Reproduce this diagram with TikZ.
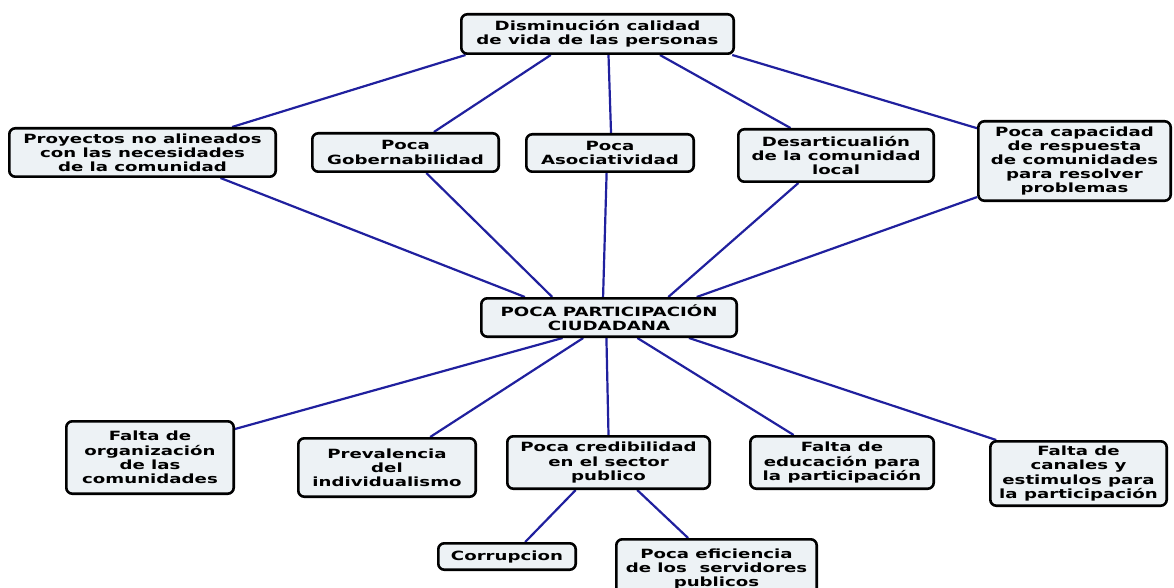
\documentclass[tikz,border=0pt]{standalone}
\usepackage{fontspec}
\newfontfamily\boxfont[FakeStretch=1.43]{DejaVu Sans Bold}
\usetikzlibrary{calc,backgrounds}
\definecolor{boxfill}{RGB}{237,242,245}
\definecolor{linkblue}{RGB}{32,32,158}
\tikzset{
  box/.style={draw=black, line width=2.6pt, rounded corners=6pt, fill=boxfill,
    align=center, inner sep=1pt, text=black,
    font=\boxfont\fontsize{12.7}{14.2}\selectfont},
  link/.style={draw=linkblue, line width=2.2pt},
}
\newcommand{\bx}[6]{% name, cx, cy, w, h, text
  \node[box, minimum width=#4pt-2.6pt, minimum height=#5pt-2.6pt] (#1) at (#2,#3) {#6};}
\begin{document}
\begin{tikzpicture}[x=1pt,y=-1pt]
\useasboundingbox (0,0) rectangle (1174,588);
\clip (0,0) rectangle (1174,588);
\bx{top}{597.5}{34}{275}{42}{Disminución calidad\\de vida de las personas}
\bx{proy}{142.5}{152.5}{269}{51}{Proyectos no alineados\\con las necesidades\\de la comunidad}
\bx{gob}{405.5}{152.5}{189}{41}{Poca\\Gobernabilidad}
\bx{aso}{610}{153}{170}{40}{Poca\\Asociatividad}
\bx{des}{836}{155.5}{198}{55}{Desarticualión\\de la comunidad\\local}
\bx{cap}{1074.5}{161}{195}{82}{Poca capacidad\\de respuesta\\de comunidades\\para resolver\\problemas}
\bx{pc}{609}{317.5}{258}{41}{POCA PARTICIPACIÓN\\CIUDADANA}
\bx{org}{150}{457.5}{170}{75}{Falta de\\organización\\de las\\comunidades}
\bx{prev}{387}{467.5}{180}{61}{Prevalencia\\del\\individualismo}
\bx{cred}{608.5}{462.5}{205}{55}{Poca credibilidad\\en el sector\\publico}
\bx{edu}{842}{462.5}{186}{55}{Falta de\\educación para\\la participación}
\bx{can}{1078.5}{473.5}{179}{67}{Falta de\\canales y\\estimulos para\\la participación}
\bx{cor}{507}{556.5}{140}{29}{Corrupcion}
\bx{efi}{716.5}{569}{203}{62}{Poca eficiencia\\de los\ \ servidores\\publicos}
\begin{pgfonlayer}{background}
% top to middle row
\draw[link] ($(top.south west)!0.02!(top.south east)$) -- ($(proy.north west)!0.833!(proy.north east)$);
\draw[link] ($(top.south west)!0.33!(top.south east)$) -- ($(gob.north west)!0.65!(gob.north east)$);
\draw[link] ($(top.south west)!0.54!(top.south east)$) -- ($(aso.north west)!0.506!(aso.north east)$);
\draw[link] ($(top.south west)!0.727!(top.south east)$) -- ($(des.north west)!0.27!(des.north east)$);
\draw[link] ($(top.south west)!0.99!(top.south east)$) -- ($(cap.north west)!0.1!(cap.south west)$);
% middle row to centre
\draw[link] ($(proy.south west)!0.79!(proy.south east)$) -- ($(pc.north west)!0.174!(pc.north east)$);
\draw[link] ($(gob.south west)!0.61!(gob.south east)$) -- ($(pc.north west)!0.28!(pc.north east)$);
\draw[link] ($(aso.south west)!0.48!(aso.south east)$) -- ($(pc.north west)!0.477!(pc.north east)$);
\draw[link] ($(des.south west)!0.31!(des.south east)$) -- ($(pc.north west)!0.73!(pc.north east)$);
\draw[link] ($(cap.north west)!0.94!(cap.south west)$) -- ($(pc.north west)!0.84!(pc.north east)$);
% centre to bottom row
\draw[link] ($(pc.south west)!0.32!(pc.south east)$) -- ($(org.north east)!0.12!(org.south east)$);
\draw[link] ($(pc.south west)!0.40!(pc.south east)$) -- ($(prev.north west)!0.74!(prev.north east)$);
\draw[link] ($(pc.south west)!0.49!(pc.south east)$) -- ($(cred.north west)!0.50!(cred.north east)$);
\draw[link] ($(pc.south west)!0.61!(pc.south east)$) -- ($(edu.north west)!0.24!(edu.north east)$);
\draw[link] ($(pc.south west)!0.81!(pc.south east)$) -- ($(can.north west)!0.04!(can.north east)$);
% credibility to its causes
\draw[link] ($(cred.south west)!0.34!(cred.south east)$) -- ($(cor.north west)!0.63!(cor.north east)$);
\draw[link] ($(cred.south west)!0.64!(cred.south east)$) -- ($(efi.north west)!0.36!(efi.north east)$);
\end{pgfonlayer}
\end{tikzpicture}
\end{document}
